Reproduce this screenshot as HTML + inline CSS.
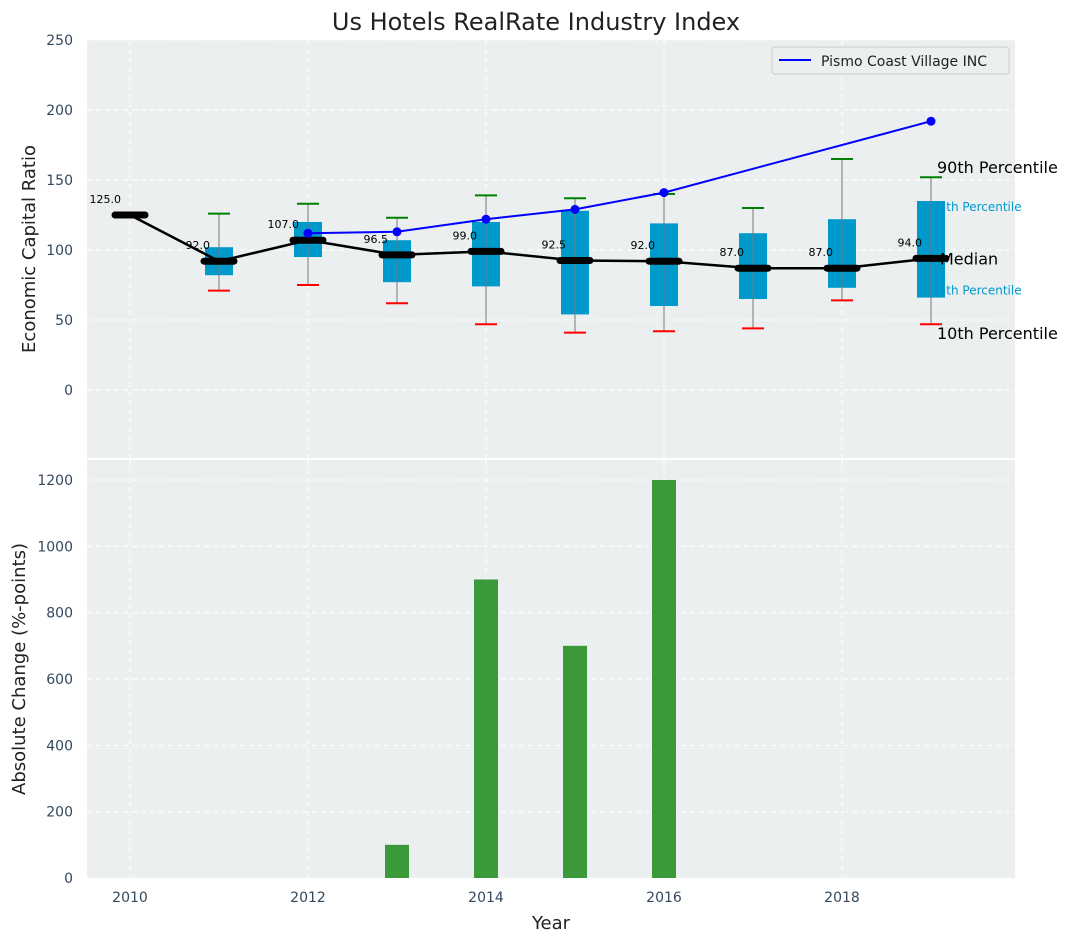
<!DOCTYPE html>
<html><head><meta charset="utf-8"><style>
body{margin:0;background:#fff;font-family:"DejaVu Sans","Liberation Sans",sans-serif}
svg text{font-family:"DejaVu Sans","Liberation Sans",sans-serif}
</style></head><body>
<svg id="chart" width="1072" height="942" xmlns="http://www.w3.org/2000/svg">
<rect x="87" y="40" width="928" height="418" fill="#ebeff0"/>
<rect x="87" y="460" width="928" height="418" fill="#ebeff0"/>
<text x="536" y="30" font-size="24" text-anchor="middle" fill="#222">Us Hotels RealRate Industry Index</text>
<g id="grid"></g><g id="bars"></g><g id="prelabels"></g><g id="boxes"></g><g id="lines"></g><g id="labels"></g>
<text transform="translate(35,249) rotate(-90)" font-size="18" text-anchor="middle" fill="#222">Economic Capital Ratio</text>
<text transform="translate(25,669) rotate(-90)" font-size="18" text-anchor="middle" fill="#222">Absolute Change (%-points)</text>
<text x="551" y="929" font-size="18" text-anchor="middle" fill="#222">Year</text>
<g>
<rect x="772" y="47" width="237" height="27" fill="#ebeff0" stroke="#ccc" rx="3"/>
<line x1="779" y1="60" x2="811" y2="60" stroke="#0000ff" stroke-width="2"/>
<text x="821" y="66" font-size="14" fill="#222">Pismo Coast Village INC</text>
</g>
</svg>
<script>
const years=[2010,2011,2012,2013,2014,2015,2016,2017,2018,2019];
const medians=[125,92,107,96.5,99,92.5,92,87,87,94];
const q1=[null,82,95,77,74,54,60,65,73,66];
const q3=[null,102,120,107,120,128,119,112,122,135];
const p90=[null,126,133,123,139,137,140,130,165,152];
const p10=[null,71,75,62,47,41,42,44,64,47];
const companyYears=[2012,2013,2014,2015,2016,2019];
const companyValues=[112,113,122,129,141,192];
const barYears=[2013,2014,2015,2016];
const barValues=[100,900,700,1200];
const topTicks=[0,50,100,150,200,250];
const bottomTicks=[0,200,400,600,800,1000,1200];
const xTicks=[2010,2012,2014,2016,2018];

const NS="http://www.w3.org/2000/svg";
const X=y=>130+(y-2010)*89;
const YT=v=>390-v*1.4;
const YB=v=>878-v*0.3317;
function mk(p,tag,a,txt){const e=document.createElementNS(NS,tag);for(const k in a)e.setAttribute(k,a[k]);if(txt!==undefined)e.textContent=txt;document.getElementById(p).appendChild(e);return e;}

topTicks.forEach(t=>{const l=mk('grid','line',{x1:87,x2:1015,y1:YT(t),y2:YT(t),stroke:'#fff','stroke-dasharray':'5,4'});

const s=mk('grid','text',{x:73,y:YT(t)+5,'font-size':14,fill:'#34495e','text-anchor':'end'},t);
});
bottomTicks.forEach(t=>{const l=mk('grid','line',{x1:87,x2:1015,y1:YB(t),y2:YB(t),stroke:'#fff','stroke-dasharray':'5,4'});

const s=mk('grid','text',{x:73,y:YB(t)+5,'font-size':14,fill:'#34495e','text-anchor':'end'},t);
});
xTicks.forEach(t=>{[[40,458],[460,878]].forEach(r=>{const l=mk('grid','line',{x1:X(t),x2:X(t),y1:r[0],y2:r[1],stroke:'#fff','stroke-dasharray':'5,4'});
});
const s=mk('grid','text',{x:X(t),y:902,'font-size':14,fill:'#34495e','text-anchor':'middle'},t);
});

barYears.forEach((y,i)=>{const r=mk('bars','rect',{x:X(y)-12,y:YB(barValues[i]),width:24,height:878-YB(barValues[i]),fill:'#3a9a3a'});
});

const lx=X(2019);
const t75=mk('prelabels','text',{x:lx,y:YT(q3[9])+10,'font-size':12,fill:'#0099cc'},'75th Percentile');

const t25=mk('prelabels','text',{x:lx,y:YT(q1[9])-3,'font-size':12,fill:'#0099cc'},'25th Percentile');

const t90=mk('labels','text',{x:lx+6,y:YT(p90[9])-4,'font-size':16,fill:'#000'},'90th Percentile');

const t10=mk('labels','text',{x:lx+6,y:YT(p10[9])+15,'font-size':16,fill:'#000'},'10th Percentile');


years.forEach((y,i)=>{const cx=X(y);
if(q1[i]!==null){
const b=mk('boxes','rect',{x:cx-14,y:YT(q3[i]),width:28,height:YT(q1[i])-YT(q3[i]),fill:'#0099cc'});

const w=mk('boxes','line',{x1:cx,x2:cx,y1:YT(p90[i]),y2:YT(p10[i]),stroke:'#777','stroke-width':1});

const h=mk('boxes','line',{x1:cx-11,x2:cx+11,y1:YT(p90[i]),y2:YT(p90[i]),stroke:'green','stroke-width':2});

const l=mk('boxes','line',{x1:cx-11,x2:cx+11,y1:YT(p10[i]),y2:YT(p10[i]),stroke:'red','stroke-width':2});
}
});
const mp=mk('lines','polyline',{points:years.map((y,i)=>X(y)+','+YT(medians[i])).join(' '),fill:'none',stroke:'#000','stroke-width':2.5});

years.forEach((y,i)=>{const m=mk('lines','line',{x1:X(y)-15,x2:X(y)+15,y1:YT(medians[i]),y2:YT(medians[i]),stroke:'#000','stroke-width':7,'stroke-linecap':'round'});

const t=mk('labels','text',{x:X(y)-9,y:YT(medians[i])-12,'font-size':11,fill:'#000','text-anchor':'end'},medians[i].toFixed(1));
});
const cl=mk('lines','polyline',{points:companyYears.map((y,i)=>X(y)+','+YT(companyValues[i])).join(' '),fill:'none',stroke:'#0000ff','stroke-width':2});

companyYears.forEach((y,i)=>{const c=mk('lines','circle',{cx:X(y),cy:YT(companyValues[i]),r:4.5,fill:'#0000ff'});
});
const med=mk('labels','text',{x:lx+9,y:YT(medians[9])+6,'font-size':16,fill:'#000'},'Median');

</script>
</body></html>
